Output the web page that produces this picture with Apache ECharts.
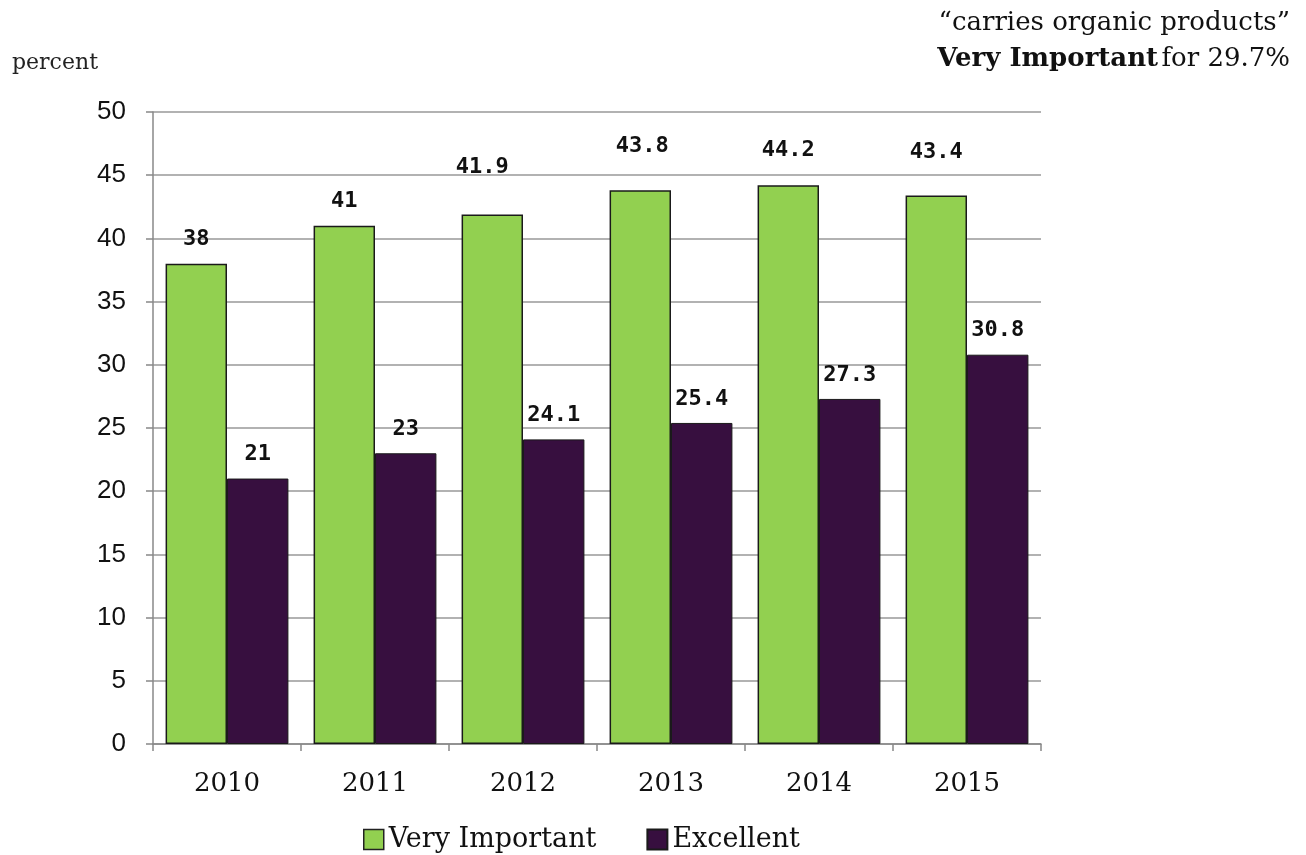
<!DOCTYPE html>
<html>
<head>
<meta charset="utf-8">
<script src="https://cdn.jsdelivr.net/npm/echarts@6/dist/echarts.min.js"></script>
<style>html,body{margin:0;padding:0;background:#fff}#c{width:1306px;height:855px}</style>
</head>
<body>
<div id="c"></div>
<script>
var categories = ['2010', '2011', '2012', '2013', '2014', '2015'];
var veryImportant = [38, 41, 41.9, 43.8, 44.2, 43.4];
var excellent = [21, 23, 24.1, 25.4, 27.3, 30.8];
var yTicks = { min: 0, max: 50, interval: 5 };

var slab = '"DejaVu Serif", "Liberation Serif", serif';
var chart = echarts.init(document.getElementById('c'));
var labelStyle = {
  show: true, position: 'top', distance: 13,
  fontFamily: '"DejaVu Sans Mono", monospace', fontWeight: 'bold', fontSize: 22, color: '#111'
};
// extra lift of a few hand-placed labels in the original (pixels)
var liftGreen = [0, 0, 23, 20, 11, 19];
var liftShiftX = [0, 0, -10, 2, 0, 0];
var greenData = veryImportant.map(function (v, i) {
  return { value: v, label: { offset: [liftShiftX[i], -liftGreen[i]] } };
});
chart.setOption({
  animation: false,
  backgroundColor: '#fff',
  grid: { left: 153, right: 265, top: 112, bottom: 111 },
  graphic: [
    { type: 'text', left: 12, top: 52, style: { text: 'percent', font: '22px ' + slab, fill: '#222' } },
    { type: 'text', right: 16, top: 10, style: { text: '\u201Ccarries organic products\u201D', font: '26px ' + slab, fill: '#111' } },
    { type: 'text', right: 16, top: 46, style: {
        text: '{b|Very Important} {n|for 29.7%}',
        rich: {
          b: { fontFamily: slab, fontWeight: 'bold', fontSize: 26, fill: '#111', color: '#111' },
          n: { fontFamily: slab, fontSize: 26, fill: '#111', color: '#111' }
        }
    } }
  ],
  legend: {
    left: 358, top: 821, itemGap: 50, itemWidth: 20, itemHeight: 20,
    textStyle: { fontFamily: slab, fontSize: 27, color: '#111', padding: [0, 0, 0, 0] },
    data: [
      { name: 'Very Important', icon: 'rect', itemStyle: { borderColor: '#222', borderWidth: 1.5 } },
      { name: 'Excellent', icon: 'rect' }
    ]
  },
  xAxis: {
    type: 'category', data: categories,
    axisLine: { lineStyle: { color: '#888', width: 1.5 } },
    axisTick: { show: true, length: 7, lineStyle: { color: '#888', width: 1.5 } },
    axisLabel: { fontFamily: slab, fontSize: 26, color: '#111', margin: 27 }
  },
  yAxis: {
    type: 'value', min: yTicks.min, max: yTicks.max, interval: yTicks.interval,
    axisLine: { show: true, lineStyle: { color: '#888', width: 1.5 } },
    axisTick: { show: true, length: 7, lineStyle: { color: '#888', width: 1.5 } },
    splitLine: { lineStyle: { color: '#999', width: 1.5 } },
    axisLabel: { fontFamily: 'Liberation Sans, Arial, sans-serif', fontSize: 26, color: '#111', margin: 27 }
  },
  series: [
    { name: 'Very Important', type: 'bar', data: greenData, barGap: '0%', barCategoryGap: '17%',
      itemStyle: { color: '#92D050', borderColor: '#1a1a1a', borderWidth: 1.5 }, label: labelStyle },
    { name: 'Excellent', type: 'bar', data: excellent,
      itemStyle: { color: '#370F3F', borderColor: '#1a1a1a', borderWidth: 1 }, label: labelStyle }
  ]
});
</script>
</body>
</html>
